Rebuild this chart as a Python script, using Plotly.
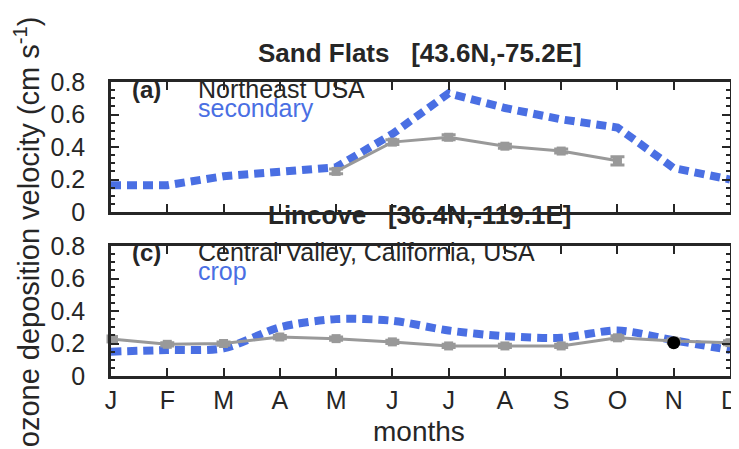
import plotly.graph_objects as go

months = ["J", "F", "M", "A", "M", "J", "J", "A", "S", "O", "N", "D"]
month_num = list(range(1, 13))

# Panel (a) Sand Flats: model (secondary) and observations
a_model = [0.165, 0.165, 0.22, 0.25, 0.275, 0.48, 0.73, 0.64, 0.57, 0.52, 0.27, 0.20]
a_obs_x = [5, 6, 7, 8, 9, 10]
a_obs = [0.25, 0.43, 0.46, 0.405, 0.375, 0.315]
a_obs_err = [0.015, 0.015, 0.015, 0.012, 0.012, 0.025]

# Panel (c) Lincove: model (crop) and observations
c_model = [0.15, 0.16, 0.17, 0.30, 0.35, 0.34, 0.28, 0.245, 0.235, 0.28, 0.22, 0.16]
c_obs = [0.228, 0.195, 0.20, 0.24, 0.23, 0.21, 0.185, 0.185, 0.185, 0.235, 0.215, 0.205]
c_obs_err = [0.015, 0.01, 0.01, 0.01, 0.01, 0.01, 0.01, 0.01, 0.01, 0.012, 0.012, 0.012]
c_extra_x = [11]
c_extra = [0.205]

yticks = [0, 0.2, 0.4, 0.6, 0.8]
ytick_text = ["0", "0.2", "0.4", "0.6", "0.8"]

FONT = "Liberation Sans, Arial, Helvetica, sans-serif"
BLUE = "#4a6fe3"
GRAY = "#999999"
INK = "#262626"

fig = go.Figure()

# top panel
fig.add_trace(go.Scatter(x=month_num, y=a_model, mode="lines", xaxis="x", yaxis="y",
                         line=dict(color=BLUE, width=8, dash="10px,6px"), showlegend=False))
fig.add_trace(go.Scatter(x=a_obs_x, y=a_obs, mode="lines+markers", xaxis="x", yaxis="y",
                         line=dict(color=GRAY, width=3), cliponaxis=False,
                         marker=dict(symbol="square", size=9, color=GRAY),
                         error_y=dict(type="data", array=a_obs_err, color=GRAY, thickness=3, width=7),
                         showlegend=False))

# bottom panel
fig.add_trace(go.Scatter(x=month_num, y=c_model, mode="lines", xaxis="x2", yaxis="y2",
                         line=dict(color=BLUE, width=8, dash="10px,6px", shape="spline", smoothing=0.8),
                         showlegend=False))
fig.add_trace(go.Scatter(x=month_num, y=c_obs, mode="lines+markers", xaxis="x2", yaxis="y2",
                         line=dict(color=GRAY, width=3), cliponaxis=False,
                         marker=dict(symbol="square", size=9, color=GRAY),
                         error_y=dict(type="data", array=c_obs_err, color=GRAY, thickness=3, width=7),
                         showlegend=False))
fig.add_trace(go.Scatter(x=c_extra_x, y=c_extra, mode="markers", xaxis="x2", yaxis="y2",
                         marker=dict(symbol="circle", size=13, color="black"), showlegend=False))

axis_common = dict(showline=True, linecolor=INK, linewidth=2.5, mirror="ticks",
                   ticks="inside", tickcolor=INK, tickwidth=2, ticklen=8,
                   showgrid=False, zeroline=False,
                   tickfont=dict(family=FONT, size=25, color=INK))
yminor = dict(dtick=0.05, ticks="inside", ticklen=4, tickcolor=INK, tickwidth=1.5, showgrid=False)

W, H = 739, 449
L, R, T, B = 103, 8, 74, 81
pw, ph = W - L - R, H - T - B

fig.update_layout(
    width=W, height=H,
    margin=dict(l=L, r=R, t=T, b=B),
    paper_bgcolor="white", plot_bgcolor="white",
    font=dict(family=FONT, color=INK),
    xaxis=dict(domain=[0, 1], anchor="y", range=[1, 12], tickvals=month_num,
               showticklabels=False, **axis_common),
    yaxis=dict(domain=[(H - B - 204) / ph, 1], anchor="x", range=[0, 0.8], tickvals=yticks,
               ticktext=ytick_text, ticklabelstandoff=18, minor=yminor, **axis_common),
    xaxis2=dict(domain=[0, 1], anchor="y2", range=[1, 12], tickvals=month_num,
                ticktext=months, ticklabelstandoff=0, **axis_common),
    yaxis2=dict(domain=[0, (H - B - 238) / ph], anchor="x2", range=[0, 0.8], tickvals=yticks,
                ticktext=ytick_text, ticklabelstandoff=18, minor=yminor, **axis_common),
)

annotations = []

def pa(text, x, y, size=25, color=INK, xanchor="left", textangle=0):
    annotations.append(dict(text=text, x=(x - L) / pw, y=(H - B - y) / ph, xref="paper", yref="paper",
                            xanchor=xanchor, yanchor="middle", showarrow=False, textangle=textangle,
                            font=dict(size=size, family=FONT, color=color)))

pa("<b>Sand Flats   [43.6N,-75.2E]</b>", 416, 45, size=26, xanchor="center")
pa("<b>Lincove   [36.4N,-119.1E]</b>", 416, 207, size=26, xanchor="center")
pa("<b>(a)</b>", 122, 81, size=24)
pa("Northeast USA", 189, 81, size=25)
pa("secondary", 189, 100, size=25, color=BLUE)
pa("<b>(c)</b>", 122, 244, size=24)
pa("Central Valley, California, USA", 189, 244, size=25)
pa("crop", 189, 263, size=25, color=BLUE)
pa("months", 415, 423, size=28, xanchor="center")
pa("ozone deposition velocity (cm s<sup>-1</sup>)", 18, 224, size=29, xanchor="center", textangle=-90)

fig.update_layout(annotations=annotations)

fig.write_html("out.html")
